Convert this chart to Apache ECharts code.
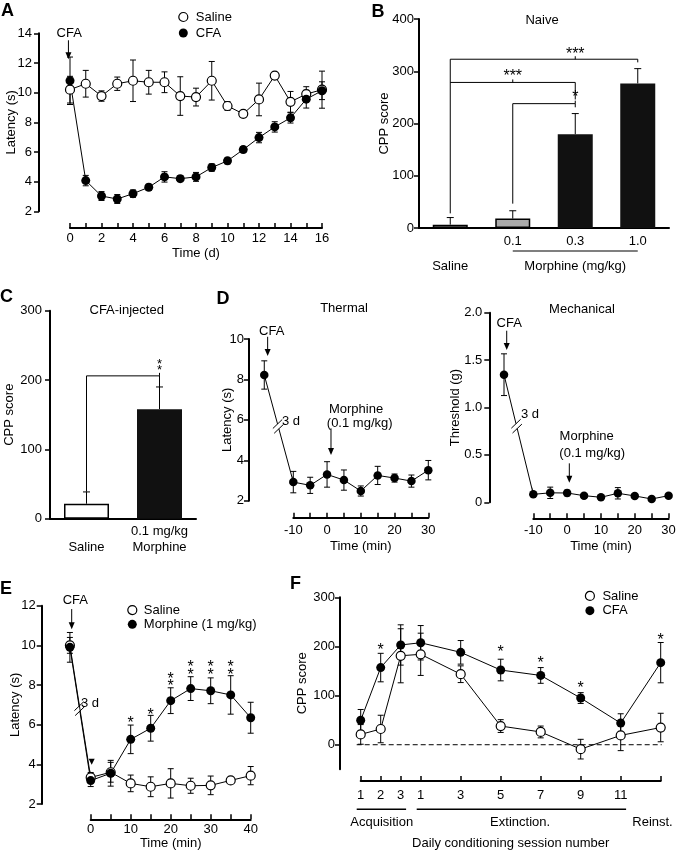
<!DOCTYPE html>
<html><head><meta charset="utf-8">
<script src="https://cdn.jsdelivr.net/npm/echarts@6/dist/echarts.min.js"></script>
<style>html,body{margin:0;padding:0;background:#fff}#c{width:676px;height:852px}</style>
</head><body><div id="c"></div>
<script>
const FONT = '"Liberation Sans", Arial, Helvetica, sans-serif';

// ---------- Panel A ----------
const aDays      = [0,1,2,3,4,5,6,7,8,9,10,11,12,13,14,15,16];
const aSaline    = [10.2,10.6,9.77,10.6,10.8,10.7,10.7,9.77,9.7,10.8,9.1,8.57,9.54,11.15,9.38,9.9,10.2];
const aSalineSem = [0.9,0.9,0.35,0.45,1.4,0.8,0.7,1.3,0.6,1.3,0.3,0.1,1.1,0.1,0.7,0.5,1.25];
const aCFA       = [10.8,4.07,3.03,2.83,3.19,3.62,4.32,4.2,4.32,4.95,5.4,6.16,6.97,7.69,8.3,9.56,10.13];
const aCFASem    = [1.6,0.35,0.3,0.3,0.25,0.2,0.35,0.2,0.3,0.25,0.2,0.2,0.35,0.35,0.35,0.6,0.6];

// ---------- Panel B ----------
const bCategories = ['Saline','0.1','0.3','1.0'];
const bCPP        = [6.4, 18, 179.5, 276.7];
const bSem        = [13.6, 15, 39.5, 28.3];

// ---------- Panel C ----------
const cCategories = ['Saline','0.1 mg/kg Morphine'];
const cCPP        = [21.6, 158];
const cSem        = [17, 32];

// ---------- Panel D ----------
const dTimes           = [-10,-5,0,5,10,15,20,25,30];
const dBaselineX       = -18.6;   // pre-CFA baseline, drawn 3 d earlier (left of axis)
const dMechBaselineX   = -18.66;
const dThermBaseline   = [8.22, 0.7];
const dThermal         = [2.92,2.76,3.3,3.02,2.48,3.25,3.12,2.97,3.51];
const dThermalSem      = [0.53,0.4,0.63,0.5,0.25,0.45,0.2,0.3,0.48];
const dMechBaseline    = [1.346, 0.22];
const dMech            = [0.084,0.10,0.098,0.07,0.053,0.095,0.067,0.035,0.07];
const dMechSem         = [0.02,0.06,0.03,0.02,0.02,0.06,0.02,0.02,0.02];

// ---------- Panel E ----------
const eTimes          = [0,5,10,15,20,25,30,35,40];
const eBaselineX      = -5.2;
const eSalineBaseline = [10.0, 0.4];
const eMorphBaseline  = [9.9, 0.75];
const eSaline         = [3.34,3.6,3.04,2.87,3.04,2.92,2.94,3.19,3.43];
const eSalineSem      = [0.25,0.5,0.42,0.5,0.74,0.38,0.47,0.12,0.46];
const eMorph          = [3.18,3.55,5.26,5.82,7.21,7.82,7.71,7.5,6.35];
const eMorphSem       = [0.3,0.65,0.72,0.65,0.65,0.6,0.65,0.97,0.78];
const eStars          = [[10,6.24],[15,6.65],[20,8.09],[20,8.45],[25,8.67],[25,9.04],[30,8.67],[30,9.04],[35,8.67],[35,9.04]];

// ---------- Panel F ----------
const fPositions  = [0,1,2,3,5,7,9,11,13,15];
const fTickLabels = ['1','2','3','1','3','5','7','9','11',''];
const fSaline     = [21,32,181,184,143.5,38,26,-9,19,35];
const fSalineSem  = [20,28,55,43,17,13,12,20,31,29];
const fCFA        = [49.7,157,203,207.5,188,152,141,95,44,167];
const fCFASem     = [22,29,41,35,24,22,16,11,19,41];
const fStars      = [[1,198],[7,195],[9,172],[11,121],[15,219.6]];

// ---------- helpers ----------
function isObj(o){return o && typeof o==='object' && !Array.isArray(o);}
function merge(a,b){const r=Object.assign({},a);for(const k in b){r[k]=(isObj(a[k])&&isObj(b[k]))?merge(a[k],b[k]):b[k];}return r;}
const TXT = {color:'#000', fontFamily:FONT, fontSize:13};
const baseAxis = {
  axisLine:{show:true,onZero:false,lineStyle:{color:'#000',width:2}},
  axisTick:{show:true,length:5,lineStyle:{color:'#000',width:1.5}},
  axisLabel:Object.assign({},TXT,{margin:7}),
  splitLine:{show:false}, nameLocation:'middle', nameTextStyle:Object.assign({},TXT),
  nameMoveOverlap:false
};
function yAx(o){return merge(merge(baseAxis,{type:'value'}),o);}
function xAx(o){return merge(merge(baseAxis,{type:'value',axisTick:{inside:true}}),o);}
const zip = (xs, ys) => xs.map((x,i)=>[x, ys[i]]);
const zip3 = (xs, ys, es) => xs.map((x,i)=>[x, ys[i], es[i]]);

function lineSeries(name, gi, yi, data, filled, size){
  return {type:'line', name, xAxisIndex:gi, yAxisIndex:yi, data, clip:false, z:3,
    symbol:'circle', symbolSize:size||9, showSymbol:true,
    lineStyle:{color:'#000',width:1},
    itemStyle:{color: filled?'#000':'#fff', borderColor:'#000', borderWidth: filled?0:1.2},
    emphasis:{disabled:true}, animation:false};
}
function errSeries(gi, yi, pts, upOnly, capW){
  return {type:'custom', name:'_err', xAxisIndex:gi, yAxisIndex:yi, clip:false, silent:true, z:2,
    data: pts, animation:false,
    renderItem(params, api){
      const x=api.value(0), y=api.value(1), e=api.value(2);
      const t=api.coord([x,y+e]), b=api.coord([x, upOnly? y : y-e]);
      const st={stroke:'#000', lineWidth:1};
      const w = capW||3;
      const ch=[{type:'line', shape:{x1:t[0],y1:t[1],x2:b[0],y2:b[1]}, style:st},
                {type:'line', shape:{x1:t[0]-w,y1:t[1],x2:t[0]+w,y2:t[1]}, style:st}];
      if(!upOnly) ch.push({type:'line', shape:{x1:b[0]-w,y1:b[1],x2:b[0]+w,y2:b[1]}, style:st});
      return {type:'group', children:ch};
    }};
}
function textEl(x,y,text,fs,align){
  return {type:'text', x, y, style:{text, fill:'#000', font:(fs||13)+'px '+FONT,
    align:align||'center', verticalAlign:'middle', textAlign:align||'center', textVerticalAlign:'middle'}};
}
function renderAnno(s, api){
  const st = {stroke:'#000', lineWidth:s.lw||1, fill:null};
  if(s.type==='text'){const p=api.coord([s.x,s.y]); return textEl(p[0],p[1],s.text,s.fs,s.align);}
  if(s.type==='star'){const fs=s.fs||16; const p=api.coord([s.x,s.y]); return textEl(p[0],p[1]+0.22*fs,s.text||'*',fs);}
  if(s.type==='arrow'){
    const p1=api.coord([s.x,s.y1]), p2=api.coord([s.x,s.y2]); const h=7,w=3;
    return {type:'group',children:[
      {type:'line',shape:{x1:p1[0],y1:p1[1],x2:p2[0],y2:p2[1]-h+1},style:st},
      {type:'polygon',shape:{points:[[p2[0]-w,p2[1]-h],[p2[0]+w,p2[1]-h],[p2[0],p2[1]]]},style:{fill:'#000'}}]};
  }
  if(s.type==='tri'){
    const p=api.coord([s.x,s.y]);
    return {type:'polygon',shape:{points:[[p[0]-3,p[1]-3],[p[0]+3,p[1]-3],[p[0],p[1]+3]]},style:{fill:'#000'}};
  }
  if(s.type==='poly'){
    return {type:'polyline',shape:{points:s.pts.map(q=>api.coord(q))},style:{stroke:'#000',lineWidth:s.lw||1,lineDash:s.dash||null,fill:null}};
  }
  if(s.type==='bracket'){
    const pts=[[s.x1,s.low1],[s.x1,s.y],[s.x2,s.y],[s.x2,s.low2]].map(q=>api.coord(q));
    const m=api.coord([(s.x1+s.x2)/2,s.y]);
    return {type:'group',children:[
      {type:'polyline',shape:{points:pts},style:{stroke:'#000',lineWidth:1,fill:null}},
      {type:'line',shape:{x1:m[0],y1:m[1],x2:m[0],y2:m[1]-3},style:{stroke:'#000',lineWidth:1}}]};
  }
  if(s.type==='break'){
    // connecting segment between baseline and first post-CFA point, with a "//" break mark
    const p1=api.coord(s.a), p2=api.coord(s.b);
    const dx=p2[0]-p1[0], dy=p2[1]-p1[1], L=Math.hypot(dx,dy), ux=dx/L, uy=dy/L;
    const cx=p1[0]+dx*s.t, cy=p1[1]+dy*s.t;
    const sx=0.72, sy=-0.69, hl=6.5, g=2.5, ch=[];
    if(s.slash!==false){
      ch.push({type:'line',shape:{x1:p1[0],y1:p1[1],x2:cx-ux*g,y2:cy-uy*g},style:{stroke:'#000',lineWidth:1}});
      ch.push({type:'line',shape:{x1:cx+ux*g,y1:cy+uy*g,x2:p2[0],y2:p2[1]},style:{stroke:'#000',lineWidth:1}});
      for(const o of [-g,g]){
        const ox=cx+ux*o, oy=cy+uy*o;
        ch.push({type:'line',shape:{x1:ox-sx*hl,y1:oy-sy*hl,x2:ox+sx*hl,y2:oy+sy*hl},style:{stroke:'#000',lineWidth:1}});
      }
    } else {
      ch.push({type:'line',shape:{x1:p1[0],y1:p1[1],x2:p2[0],y2:p2[1]},style:{stroke:'#000',lineWidth:1}});
    }
    return {type:'group',children:ch};
  }
  return null;
}
function annoSeries(gi, yi, anchor, specs, z){
  return {type:'custom', name:'_anno', xAxisIndex:gi, yAxisIndex:yi, clip:false, silent:true, z:z||5, animation:false,
    data: specs.map(()=>anchor),
    renderItem:(params, api)=>renderAnno(specs[params.dataIndex], api)};
}

// ---------- annotations (data coordinates) ----------
const annoA = [
  {type:'text', x:-0.05, y:14.0, text:'CFA'},
  {type:'arrow', x:-0.1, y1:13.53, y2:12.25}
];
const annoB = [
  {type:'bracket', x1:0, x2:3, y:323, low1:28, low2:317},
  {type:'bracket', x1:0, x2:2, y:278.6, low1:278.6, low2:246},
  {type:'bracket', x1:1, x2:2, y:238, low1:46.6, low2:231},
  {type:'star', x:1.5, y:339, text:'***'},
  {type:'star', x:1.0, y:297, text:'***'},
  {type:'star', x:1.52, y:256, text:'*'},
  {type:'poly', pts:[[0.732,-44],[3.388,-44]], lw:1.2},
  {type:'text', x:2.03, y:-73, text:'Morphine (mg/kg)'}
];
const annoC = [
  {type:'bracket', x1:0, x2:1, y:206, low1:39, low2:190},
  {type:'star', x:0.51, y:226.5, fs:13},
  {type:'star', x:0.51, y:218, fs:13}
];
const annoD1 = [
  {type:'text', x:-16.4, y:10.36, text:'CFA'},
  {type:'arrow', x:-17.6, y1:10.11, y2:9.16},
  {type:'break', a:[dBaselineX, dThermBaseline[0]], b:[dTimes[0], dThermal[0]], t:0.48},
  {type:'text', x:-10.7, y:5.94, text:'3 d'},
  {type:'text', x:8.6, y:6.51, text:'Morphine'},
  {type:'text', x:9.67, y:5.83, text:'(0.1 mg/kg)'},
  {type:'arrow', x:1.17, y1:5.58, y2:4.26}
];
const annoD2 = [
  {type:'text', x:-17.12, y:1.883, text:'CFA'},
  {type:'arrow', x:-17.86, y1:1.81, y2:1.607},
  {type:'break', a:[dMechBaselineX, dMechBaseline[0]], b:[dTimes[0], dMech[0]], t:0.43},
  {type:'text', x:-10.98, y:0.924, text:'3 d'},
  {type:'text', x:5.78, y:0.697, text:'Morphine'},
  {type:'text', x:7.41, y:0.52, text:'(0.1 mg/kg)'},
  {type:'arrow', x:0.65, y1:0.411, y2:0.207}
];
const annoE = [
  {type:'text', x:-3.85, y:12.26, text:'CFA'},
  {type:'arrow', x:-4.75, y1:11.83, y2:10.81},
  {type:'break', a:[eBaselineX, eMorphBaseline[0]], b:[eTimes[0], eMorph[0]], t:0.46},
  {type:'break', a:[eBaselineX, eSalineBaseline[0]], b:[eTimes[0], eSaline[0]], t:0.46, slash:false},
  {type:'text', x:-0.18, y:7.09, text:'3 d'},
  {type:'tri', x:0.25, y:4.13}
].concat(eStars.map(s=>({type:'star', x:s[0], y:s[1]})));
const annoF = [
  {type:'poly', pts:[[-0.2,0],[15.05,0]], dash:[5,3]},
  {type:'poly', pts:[[-0.2,-131.4],[2.27,-131.4]], lw:1.6},
  {type:'poly', pts:[[2.8,-131.4],[13.27,-131.4]], lw:1.6},
  {type:'text', x:1.05, y:-158, text:'Acquisition'},
  {type:'text', x:7.97, y:-158, text:'Extinction.'},
  {type:'text', x:14.59, y:-158, text:'Reinst.'}
].concat(fStars.map(s=>({type:'star', x:s[0], y:s[1]})));

// ---------- option ----------
const grids = [
  {left:70,    top:33.3,  width:252,   height:178},
  {left:419,   top:19,    width:250,   height:209},
  {left:50,    top:310.7, width:146,   height:208},
  {left:293.3, top:339,   width:135,   height:161.7},
  {left:533.3, top:312.7, width:135.3, height:189.6},
  {left:90.7,  top:605.7, width:160,   height:198.3},
  {left:360.7, top:597.3, width:300,   height:172}
].map(g=>Object.assign(g,{outerBoundsMode:'none', containLabel:false}));

const xAxes = [
  xAx({gridIndex:0, min:0, max:16, interval:1, offset:16.7, name:'Time (d)', nameGap:19,
       axisLabel:{margin:4, formatter:v=>v%2===0?String(v):''}}),
  merge(baseAxis,{type:'category', gridIndex:1, data:bCategories, axisTick:{show:false},
       axisLabel:{margin:7, lineHeight:12.5, interval:0, formatter:(v,i)=>i===0?'\n\nSaline':v}}),
  merge(baseAxis,{type:'category', gridIndex:2, data:cCategories, axisTick:{show:false},
       axisLabel:{margin:5, lineHeight:16, interval:0, formatter:(v,i)=>i===0?'\nSaline':'0.1 mg/kg\nMorphine'}}),
  xAx({gridIndex:3, min:-10, max:30, interval:5, offset:17, name:'Time (min)', nameGap:22,
       axisLabel:{margin:6, formatter:v=>v%10===0?String(v):''}}),
  xAx({gridIndex:4, min:-10, max:30, interval:5, offset:16, name:'Time (min)', nameGap:22,
       axisLabel:{margin:6, formatter:v=>v%10===0?String(v):''}}),
  xAx({gridIndex:5, min:0, max:40, interval:5, offset:15.3, name:'Time (min)', nameGap:18,
       axisLabel:{margin:4, formatter:v=>v%10===0?String(v):''}}),
  xAx({gridIndex:6, min:0, max:15, offset:11.7, name:'Daily conditioning session number', nameGap:56,
       axisTick:{customValues:fPositions},
       axisLabel:{margin:8, customValues:fPositions.slice(0,9), formatter:v=>{const i=fPositions.indexOf(v);return i>=0?fTickLabels[i]:'';}}})
];
const yAxes = [
  yAx({gridIndex:0, min:2, max:14, interval:2, offset:31, name:'Latency (s)', nameGap:21}),
  yAx({gridIndex:1, min:0, max:400, interval:100, name:'CPP score', nameGap:28, axisLabel:{margin:5}}),
  yAx({gridIndex:2, min:0, max:300, interval:100, name:'CPP score', nameGap:34, axisLabel:{margin:8}}),
  yAx({gridIndex:3, min:2, max:10, interval:2, offset:44.3, name:'Latency (s)', nameGap:15, axisLabel:{margin:5}}),
  yAx({gridIndex:4, min:0, max:2, interval:0.5, offset:44, name:'Threshold (g)', nameGap:27,
       axisLabel:{margin:7, formatter:v=>v===0?'0':v.toFixed(1)}}),
  yAx({gridIndex:5, min:2, max:12, interval:2, offset:49, name:'Latency (s)', nameGap:20, axisLabel:{margin:6}}),
  yAx({gridIndex:6, min:-50, max:300, offset:20.7, name:'CPP score', nameGap:31,
       axisTick:{customValues:[0,100,200,300]}, axisLabel:{margin:5, customValues:[0,100,200,300]}}),
  yAx({gridIndex:6, min:-50, max:300, offset:20.7, axisLine:{show:false}, axisLabel:{show:false},
       axisTick:{length:2.5, customValues:[-50,50,150,250]}})
];

const series = [
  // A
  errSeries(0,0, zip3(aDays,aSaline,aSalineSem)),
  errSeries(0,0, zip3(aDays,aCFA,aCFASem)),
  lineSeries('Saline',0,0, zip(aDays,aSaline), false),
  lineSeries('CFA',0,0, zip(aDays,aCFA), true),
  annoSeries(0,0,[0,2],annoA),
  // B
  {type:'bar', name:'_barB', xAxisIndex:1, yAxisIndex:1, barWidth:35, animation:false, silent:true,
   data: bCPP.map((v,i)=>({value:v, itemStyle:{color:['#fff','#aaaaaa','#111','#111'][i], borderColor:'#000', borderWidth:i<2?1.5:0}}))},
  errSeries(1,1, zip3([0,1,2,3],bCPP,bSem), true, 3.5),
  annoSeries(1,1,[0,0],annoB),
  // C
  {type:'bar', name:'_barC', xAxisIndex:2, yAxisIndex:2, barWidth:45, animation:false, silent:true,
   data: cCPP.map((v,i)=>({value:v, itemStyle:{color:['#fff','#111'][i], borderColor:'#000', borderWidth:i<1?1.5:0}}))},
  errSeries(2,2, zip3([0,1],cCPP,cSem), true, 3.5),
  annoSeries(2,2,[0,0],annoC),
  // D thermal
  annoSeries(3,3,[0,2],annoD1,1),
  errSeries(3,3, [[dBaselineX].concat(dThermBaseline)].concat(zip3(dTimes,dThermal,dThermalSem))),
  lineSeries('_thermal',3,3, [[dBaselineX,dThermBaseline[0]]].concat(zip(dTimes,dThermal)), true, 8.5),
  // D mechanical
  annoSeries(4,4,[0,0],annoD2,1),
  errSeries(4,4, [[dMechBaselineX].concat(dMechBaseline)].concat(zip3(dTimes,dMech,dMechSem))),
  lineSeries('_mech',4,4, [[dMechBaselineX,dMechBaseline[0]]].concat(zip(dTimes,dMech)), true, 8.5),
  // E
  annoSeries(5,5,[0,2],annoE,1),
  errSeries(5,5, [[eBaselineX].concat(eSalineBaseline)].concat(zip3(eTimes,eSaline,eSalineSem))),
  errSeries(5,5, [[eBaselineX].concat(eMorphBaseline)].concat(zip3(eTimes,eMorph,eMorphSem))),
  lineSeries('Saline',5,5, [[eBaselineX,eSalineBaseline[0]]].concat(zip(eTimes,eSaline)), false),
  lineSeries('Morphine (1 mg/kg)',5,5, [[eBaselineX,eMorphBaseline[0]]].concat(zip(eTimes,eMorph)), true),
  // F
  annoSeries(6,6,[0,0],annoF),
  errSeries(6,6, zip3(fPositions,fSaline,fSalineSem)),
  errSeries(6,6, zip3(fPositions,fCFA,fCFASem)),
  lineSeries('Saline',6,6, zip(fPositions,fSaline), false),
  lineSeries('CFA',6,6, zip(fPositions,fCFA), true)
];

const legendItem = (name, filled) => ({name, icon:'circle',
  itemStyle:{color: filled?'#000':'#fff', borderColor:'#000', borderWidth: filled?0:1.2}});
function legend(left, top, lh, items, pad){
  return {orient:'vertical', left, top, padding:0, itemGap:0, itemWidth:9, itemHeight:9, selectedMode:false,
    textStyle:Object.assign({},TXT,{lineHeight:lh, padding:[0,0,0,pad]}), data:items};
}
const legends = [
  legend(178.2, 9, 16, [legendItem('Saline',false), legendItem('CFA',true)], 3),
  legend(127.2, 602.9, 14.3, [legendItem('Saline',false), legendItem('Morphine (1 mg/kg)',true)], 2),
  legend(584.8, 588.6, 14.7, [legendItem('Saline',false), legendItem('CFA',true)], 3)
];

const letter = (t,x,y) => textEl(x,y,t,18,'left');
const graphics = [
  letter('A',1,11.5), letter('B',371.5,11.7), letter('C',0,297), letter('D',216.5,299.5),
  letter('E',0,589), letter('F',290,584),
  textEl(542,20,'Naive'), textEl(126.7,310,'CFA-injected'), textEl(344,308.7,'Thermal'), textEl(582,309,'Mechanical')
].map(g=>{g.style.font = (g.style.font.startsWith('18px')?'bold ':'')+g.style.font; return g;});

const chart = echarts.init(document.getElementById('c'), null, {renderer:'canvas'});
chart.setOption({
  backgroundColor:'#fff', animation:false, textStyle:{fontFamily:FONT},
  grid: grids, xAxis: xAxes, yAxis: yAxes, series, legend: legends,
  graphic: {elements: graphics}
});
</script></body></html>
